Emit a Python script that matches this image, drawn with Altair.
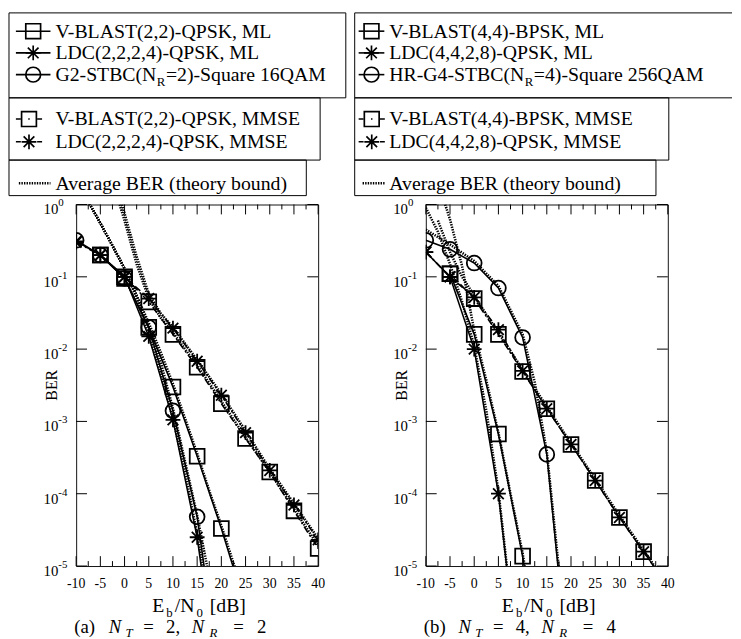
import re
import altair as alt
import pandas as pd

FONT = "Liberation Serif"
W, H = 245, 366

# ---------------- panel (a): N_T = 2, N_R = 2 ----------------
a_vb_ml_snr = [-5, 0, 5, 10, 15, 20, 25]
a_vb_ml_ber = [0.2, 0.095, 0.02, 0.003, 3.3e-4, 3.3e-5, 2.7e-6]
a_ldc_ml_snr = [-10, -5, 0, 5, 10, 15, 20]
a_ldc_ml_ber = [0.31, 0.2, 0.1, 0.015, 1.05e-3, 2.5e-5, 1e-7]
a_g2_snr = [-10, -5, 0, 5, 10, 15, 20]
a_g2_ber = [0.32, 0.2, 0.095, 0.02, 1.4e-3, 4.8e-5, 2e-7]
a_vb_mmse_snr = [-5, 0, 5, 10, 15, 20, 25, 30, 35, 40]
a_vb_mmse_ber = [0.2, 0.1, 0.045, 0.016, 5.6e-3, 1.76e-3, 5.8e-4, 2.0e-4, 5.8e-5, 1.75e-5]
a_ldc_mmse_snr = [-10, -5, 0, 5, 10, 15, 20, 25, 30, 35, 40]
a_ldc_mmse_ber = [0.3, 0.2, 0.1, 0.05, 0.0195, 6.8e-3, 2.3e-3, 7.0e-4, 2.1e-4, 7.0e-5, 2.3e-5]

a_th_ldc_snr = [-7.5, -5, -2.5, 0, 2.5, 5, 7.5, 10, 12.5, 15, 17.5]
a_th_ldc_ber = [1.1, 0.55, 0.27, 0.13, 0.05, 0.016, 4.5e-3, 1.1e-3, 2e-4, 2.8e-5, 3e-6]
a_th_g2_snr = [-7.5, -5, -2.5, 0, 2.5, 5, 7.5, 10, 12.5, 15, 17.5, 20]
a_th_g2_ber = [1.1, 0.55, 0.27, 0.13, 0.055, 0.021, 6.5e-3, 1.5e-3, 2.8e-4, 5e-5, 7e-6, 8e-7]
a_th_vb_snr = [-7.5, -5, -2.5, 0, 2.5, 5, 7.5, 10, 12.5, 15, 17.5, 20, 22.5, 25]
a_th_vb_ber = [1.1, 0.55, 0.27, 0.13, 0.055, 0.023, 9e-3, 3.3e-3, 1.1e-3, 3.6e-4, 1.1e-4, 3.6e-5, 1.1e-5, 3.3e-6]
a_th_vbm_snr = [-1, 0, 2.5, 5, 7.5, 10, 12.5, 15, 20, 25, 30, 35, 40]
a_th_vbm_ber = [1.0, 0.6, 0.15, 0.05, 0.027, 0.017, 0.01, 6e-3, 1.9e-3, 6e-4, 2e-4, 6.2e-5, 1.9e-5]
a_th_ldcm_snr = [-0.5, 0, 2.5, 5, 7.5, 10, 15, 20, 25, 30, 35, 40]
a_th_ldcm_ber = [1.0, 0.75, 0.19, 0.058, 0.031, 0.02, 7.1e-3, 2.4e-3, 7.4e-4, 2.2e-4, 7.3e-5, 2.4e-5]

a_legend = ["V-BLAST(2,2)-QPSK, ML", "LDC(2,2,2,4)-QPSK, ML", "G2-STBC(N_{R}=2)-Square 16QAM",
            "V-BLAST(2,2)-QPSK, MMSE", "LDC(2,2,2,4)-QPSK, MMSE", "Average BER (theory bound)"]

# ---------------- panel (b): N_T = 4, N_R = 4 ----------------
b_vb_ml_snr = [-5, 0, 5, 10, 15]
b_vb_ml_ber = [0.11, 0.016, 6.7e-4, 1.37e-5, 1e-7]
b_ldc_ml_snr = [-10, -5, 0, 5, 10]
b_ldc_ml_ber = [0.22, 0.1, 0.01, 1e-4, 1.1e-7]
b_g4_snr = [-10, -5, 0, 5, 10, 15, 20]
b_g4_ber = [0.32, 0.24, 0.155, 0.07, 0.0145, 3.5e-4, 1.5e-7]
b_vb_mmse_snr = [-5, 0, 5, 10, 15, 20, 25, 30, 35, 40]
b_vb_mmse_ber = [0.11, 0.05, 0.016, 4.9e-3, 1.5e-3, 4.8e-4, 1.52e-4, 4.7e-5, 1.58e-5, 5.2e-6]
b_ldc_mmse_snr = [-10, -5, 0, 5, 10, 15, 20, 25, 30, 35, 40]
b_ldc_mmse_ber = [0.22, 0.1, 0.052, 0.0186, 5.0e-3, 1.5e-3, 4.8e-4, 1.52e-4, 4.7e-5, 1.58e-5, 5.2e-6]

b_th_ldc_snr = [-10, -7.5, -5, -2.5, 0, 2.5, 5, 7.5]
b_th_ldc_ber = [0.9, 0.42, 0.15, 0.045, 0.011, 1.4e-3, 1.1e-4, 3.5e-6]
b_th_vb_snr = [-6, -5, -2.5, 0, 2.5, 5, 7.5, 10, 12.5]
b_th_vb_ber = [1.0, 0.62, 0.14, 0.018, 3.7e-3, 7e-4, 1e-4, 1.5e-5, 1.5e-6]
b_th_mm_snr = [-7.5, -5, -2.5, 0, 2.5, 5, 10, 15, 20, 25, 30, 35, 40]
b_th_mm_ber = [0.6, 0.22, 0.1, 0.055, 0.03, 0.017, 5.2e-3, 1.6e-3, 5e-4, 1.6e-4, 5e-5, 1.65e-5, 5.4e-6]
b_th_g4_snr = [-10, -5, 0, 5, 10, 12.5, 15, 17.5, 20]
b_th_g4_ber = [0.45, 0.28, 0.165, 0.075, 0.016, 3.5e-3, 3.8e-4, 9e-6, 1.5e-7]

b_legend = ["V-BLAST(4,4)-BPSK, ML", "LDC(4,4,2,8)-QPSK, ML", "HR-G4-STBC(N_{R}=4)-Square 256QAM",
            "V-BLAST(4,4)-BPSK, MMSE", "LDC(4,4,2,8)-QPSK, MMSE", "Average BER (theory bound)"]

# axes
x_major = [-10, -5, 0, 5, 10, 15, 20, 25, 30, 35, 40]
x_minor = [-7.5, -2.5, 2.5, 7.5, 12.5, 17.5, 22.5, 27.5, 32.5, 37.5]
y_exp = [0, -1, -2, -3, -4, -5]
x_title = "E_{b}/N_{0} [dB]"
y_title = "BER"

# ---------------------------------------------------------------
STAR = "M-1,0L1,0M0,-1L0,1M-0.72,-0.72L0.72,0.72M-0.72,0.72L0.72,-0.72"
MK_DOM = ["square", "star", "circle"]
MK_RNG = ["square", STAR, "circle"]
MK_PATH = dict(zip(MK_DOM, MK_RNG))
DOT = [1.4, 1.2]
DOT_W = 2.6

ONE = pd.DataFrame({"k": [0]})
X = alt.X("snr:Q", scale=alt.Scale(domain=[-10, 40], nice=False, zero=False), axis=None)
Y = alt.Y("ber:Q", scale=alt.Scale(type="log", domain=[1e-5, 1], nice=False), axis=None)

TIMES = {' ': 250, '(': 333, ')': 333, '-': 333, ',': 250, '=': 564, '/': 278, '[': 333, ']': 333,
         'A': 722, 'B': 667, 'C': 667, 'D': 722, 'E': 611, 'G': 722, 'H': 722, 'K': 722, 'L': 611,
         'M': 889, 'N': 722, 'P': 556, 'Q': 722, 'R': 667, 'S': 556, 'T': 611, 'V': 722,
         'a': 444, 'b': 500, 'd': 500, 'e': 444, 'g': 500, 'h': 500, 'i': 278, 'n': 500, 'o': 500,
         'q': 500, 'r': 333, 't': 278, 'u': 500, 'v': 500, 'y': 500}


def tw(s, size):
    return sum(TIMES.get(c, 500) for c in s) * size / 1000.0


def parse(s):
    out = []
    for m in re.finditer(r"_\{([^}]*)\}|[^_]+", s):
        if m.group(1) is not None:
            out.append((m.group(1), True))
        else:
            out.append((m.group(0), False))
    return out


def txt(t, x, y, size, italic=False, align="left", baseline="alphabetic", angle=0):
    kw = dict(text=t, font=FONT, fontSize=size, align=align, baseline=baseline, color="black")
    if italic:
        kw["fontStyle"] = "italic"
    if angle:
        kw["angle"] = angle
    return alt.Chart(ONE).mark_text(**kw).encode(x=alt.value(x), y=alt.value(y))


def rich(s, x, y, size, sub_size=13, sub_dy=5, gap=1.0):
    out, cx = [], x
    for piece, sub in parse(s):
        fs = sub_size if sub else size
        lead = len(piece) - len(piece.lstrip(" "))
        if piece.strip():
            out.append(txt(piece.strip(), cx + tw(" " * lead, fs), y + (sub_dy if sub else 0), fs))
        cx += tw(piece, fs) + gap
    return out


def hrule(x1, x2, y, width=1.0, dash=None):
    kw = dict(color="black", strokeWidth=width)
    if dash:
        kw["strokeDash"] = dash
    return alt.Chart(ONE).mark_rule(**kw).encode(x=alt.value(x1), x2=alt.value(x2), y=alt.value(y))


def vrule(x, y1, y2, width=1.0):
    return alt.Chart(ONE).mark_rule(color="black", strokeWidth=width).encode(
        x=alt.value(x), y=alt.value(y1), y2=alt.value(y2))


def long_df(items):
    rows = []
    for name, mk, xs, ys in items:
        for a, b in zip(xs, ys):
            rows.append({"series": name, "marker": mk, "snr": a, "ber": b})
    return pd.DataFrame(rows)


ROW_BASE = [-169, -147, -125, -80, -57, -15]
KINDS = [("ml", "square"), ("ml", "star"), ("ml", "circle"),
         ("mmse", "square"), ("mmse", "star"), ("th", None)]


def legend(labels, g):
    L = []
    top, b1, b2, b3 = -194, -108, -45, -9
    xl = g["left"]
    L.append(hrule(xl, g["r1"], top))
    L.append(hrule(xl, g["r1"], b1))
    L.append(vrule(xl, top, b1))
    if not g["open"]:
        L.append(vrule(g["r1"], top, b1))
    L += [hrule(xl, g["r2"], b1), hrule(xl, g["r2"], b2), vrule(xl, b1, b2), vrule(g["r2"], b1, b2)]
    L += [hrule(xl, g["r3"], b2), hrule(xl, g["r3"], b3), vrule(xl, b2, b3), vrule(g["r3"], b2, b3)]
    for lab, (kind, mk), yb in zip(labels, KINDS, ROW_BASE):
        ys = yb - 6.5
        if kind == "ml":
            x1, x2 = g["ml"]
            L.append(hrule(x1, x2, ys, 1.6))
            xm = (x1 + x2) / 2
        elif kind == "mmse":
            x1 = g["mmse"]
            L.append(hrule(x1, x1 + 26.5, ys, 1.6, [5, 7.5, 1.5, 7.5]))
            xm = x1 + 13.25
        else:
            x1, x2 = g["th"]
            L.append(hrule(x1, x2, ys, DOT_W, DOT))
            xm = None
        if mk:
            L.append(alt.Chart(ONE).mark_point(shape=MK_PATH[mk], filled=False, color="black",
                                               strokeWidth=1.7, size=225, opacity=1).encode(
                x=alt.value(xm), y=alt.value(ys)))
        L += rich(lab, g["text"], yb, 20, 13, 5, gap=0.5)
    return L


def panel(ml, mmse, th, labels, g, tag, num):
    layers = []
    layers.append(alt.Chart(th).mark_line(clip=True, color="black", strokeWidth=DOT_W,
                                          strokeDash=DOT).encode(X, Y, detail="series:N"))
    layers.append(alt.Chart(ml).mark_line(clip=True, color="black", strokeWidth=1.6).encode(
        X, Y, detail="series:N"))
    layers.append(alt.Chart(mmse).mark_line(clip=True, color="black", strokeWidth=1.6,
                                            strokeDash=[7, 3, 2, 3]).encode(X, Y, detail="series:N"))
    pts = pd.concat([ml, mmse], ignore_index=True)
    layers.append(alt.Chart(pts).mark_point(clip=True, filled=False, color="black", strokeWidth=1.8,
                                            size=225, opacity=1).encode(
        X, Y, shape=alt.Shape("marker:N", scale=alt.Scale(domain=MK_DOM, range=MK_RNG), legend=None)))
    xmaj = pd.DataFrame({"snr": x_major, "lab": [str(v) for v in x_major]})
    xmin = pd.DataFrame({"snr": x_minor})
    for df, ln in [(xmaj, 10), (xmin, 5)]:
        layers.append(alt.Chart(df).mark_rule(color="black").encode(X, y=alt.value(H), y2=alt.value(H - ln)))
        layers.append(alt.Chart(df).mark_rule(color="black").encode(X, y=alt.value(0), y2=alt.value(ln)))
    ydf = pd.DataFrame({"ber": [10.0 ** e for e in y_exp], "ex": [str(e) for e in y_exp]})
    layers.append(alt.Chart(ydf).mark_rule(color="black").encode(Y, x=alt.value(0), x2=alt.value(11)))
    layers.append(alt.Chart(ydf).mark_rule(color="black").encode(Y, x=alt.value(W - 11), x2=alt.value(W)))
    layers.append(alt.Chart(xmaj).mark_text(font=FONT, fontSize=14, align="center", baseline="alphabetic",
                                            color="black").encode(X, y=alt.value(H + 22), text="lab:N"))
    layers.append(alt.Chart(ydf).mark_text(font=FONT, fontSize=15, align="left", baseline="alphabetic",
                                           dy=10, color="black", text="10").encode(Y, x=alt.value(-33)))
    layers.append(alt.Chart(ydf).mark_text(font=FONT, fontSize=11, align="left", baseline="alphabetic",
                                           dy=2, color="black").encode(Y, x=alt.value(-18), text="ex:N"))
    layers.append(txt(y_title, -24, H / 2, 16, align="center", baseline="middle", angle=270))
    layers += rich(x_title, 77, 413, 20, 13, 5, gap=2.0)
    cy = 434
    cap = [(tag, -2, 0, 19, False), ("N", 33, 0, 19, True), ("T", 50, 4, 13, True),
           ("=", 68, 0, 19, False), (num + ",", 91, 0, 19, False), ("N", 117, 0, 19, True),
           ("R", 135, 4, 13, True), ("=", 159, 0, 19, False), (num, 183, 0, 19, False)]
    for t, x, dy, fs, it in cap:
        layers.append(txt(t, x, cy + dy, fs, italic=it))
    layers += legend(labels, g)
    return alt.layer(*layers).properties(width=W, height=H)


a_ml = long_df([("vb", "square", a_vb_ml_snr, a_vb_ml_ber),
                ("ldc", "star", a_ldc_ml_snr, a_ldc_ml_ber),
                ("g2", "circle", a_g2_snr, a_g2_ber)])
a_mmse = long_df([("vbm", "square", a_vb_mmse_snr, a_vb_mmse_ber),
                  ("ldcm", "star", a_ldc_mmse_snr, a_ldc_mmse_ber)])
a_th = long_df([("t1", "", a_th_ldc_snr, a_th_ldc_ber), ("t2", "", a_th_g2_snr, a_th_g2_ber),
                ("t3", "", a_th_vb_snr, a_th_vb_ber), ("t4", "", a_th_vbm_snr, a_th_vbm_ber),
                ("t5", "", a_th_ldcm_snr, a_th_ldcm_ber)])
b_ml = long_df([("vb", "square", b_vb_ml_snr, b_vb_ml_ber),
                ("ldc", "star", b_ldc_ml_snr, b_ldc_ml_ber),
                ("g4", "circle", b_g4_snr, b_g4_ber)])
b_mmse = long_df([("vbm", "square", b_vb_mmse_snr, b_vb_mmse_ber),
                  ("ldcm", "star", b_ldc_mmse_snr, b_ldc_mmse_ber)])
b_th = long_df([("t1", "", b_th_ldc_snr, b_th_ldc_ber), ("t2", "", b_th_vb_snr, b_th_vb_ber),
                ("t3", "", b_th_mm_snr, b_th_mm_ber), ("t4", "", b_th_g4_snr, b_th_g4_ber)])

ga = dict(left=-68, r1=273, r2=247, r3=233, open=False, ml=(-61, -26), mmse=-61, th=(-58, -26), text=-21)
gb = dict(left=-72, r1=310, r2=246, r3=233, open=True, ml=(-68, -42), mmse=-68, th=(-64, -41), text=-37)

pa = panel(a_ml, a_mmse, a_th, a_legend, ga, "(a)", "2")
pb = panel(b_ml, b_mmse, b_th, b_legend, gb, "(b)", "4")

chart = alt.hconcat(pa, pb, spacing=109, bounds="flush").properties(
    padding={"left": 0, "right": 0, "top": 0, "bottom": 0}
).configure_view(stroke="#111", strokeWidth=1)

chart.save("out.html", embed_options={"renderer": "svg", "actions": False})
